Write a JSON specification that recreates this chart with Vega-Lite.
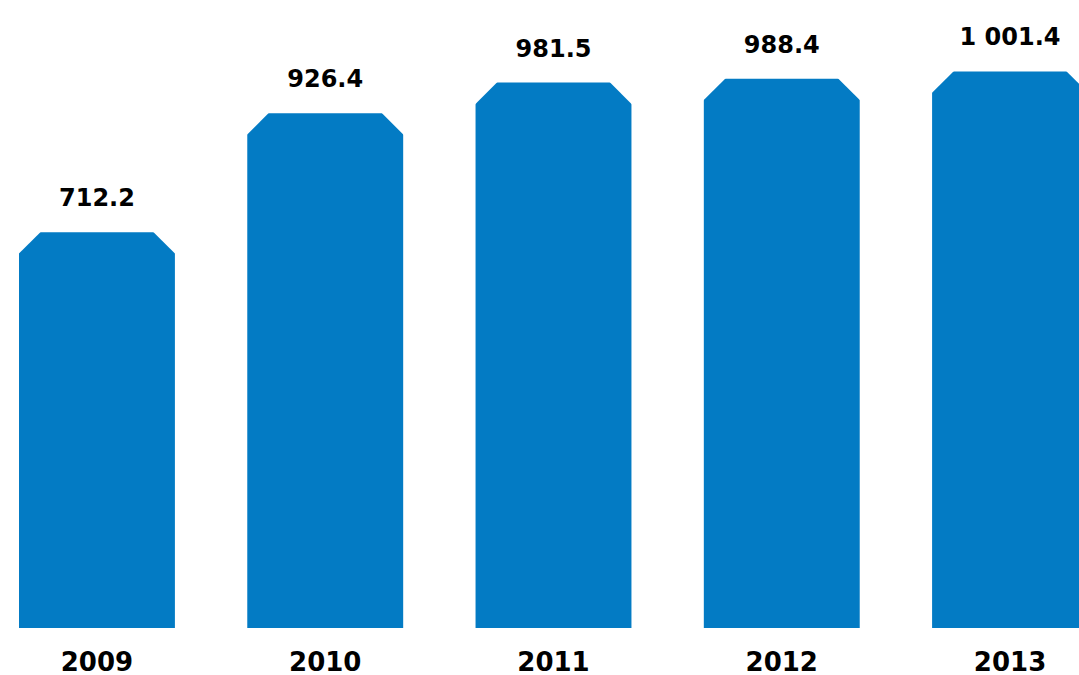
{
  "$schema": "https://vega.github.io/schema/vega-lite/v6.json",
  "width": 1079,
  "height": 675,
  "padding": 0,
  "autosize": "none",
  "background": "white",
  "config": {"view": {"stroke": null}},
  "data": {"values": [
    {"year": "2009", "value": 712.2, "label": "712.2"},
    {"year": "2010", "value": 926.4, "label": "926.4"},
    {"year": "2011", "value": 981.5, "label": "981.5"},
    {"year": "2012", "value": 988.4, "label": "988.4"},
    {"year": "2013", "value": 1001.4, "label": "1 001.4"}
  ]},
  "encoding": {
    "x": {
      "field": "year", "type": "nominal", "sort": null,
      "scale": {"range": [19, 1088], "paddingInner": 0.317, "paddingOuter": 0},
      "axis": {"title": null, "domain": false, "ticks": false, "labelAngle": 0, "offset": -47,
        "labelFont": "DejaVu Sans", "labelFontWeight": "bold", "labelFontSize": 26,
        "labelColor": "black", "labelPadding": 21, "labelBaseline": "top"}
    },
    "y": {
      "field": "value", "type": "quantitative",
      "scale": {"domain": [0, 1130], "nice": false, "zero": true, "range": [628, 0]},
      "axis": null
    }
  },
  "layer": [
    {"mark": {"type": "bar", "color": "#037bc4"}},
    {"mark": {"type": "point", "filled": true, "color": "white", "opacity": 1, "size": 2150, "shape": "M-0.1,-0.1 L1.02,-0.1 L-0.1,1.02 Z"},
     "encoding": {"x": {"field": "year", "type": "nominal", "sort": null, "bandPosition": 0}}},
    {"mark": {"type": "point", "filled": true, "color": "white", "opacity": 1, "size": 2150, "shape": "M0.1,-0.1 L-1.02,-0.1 L0.1,1.02 Z"},
     "encoding": {"x": {"field": "year", "type": "nominal", "sort": null, "bandPosition": 1}}},
    {"mark": {"type": "text", "font": "DejaVu Sans", "fontWeight": "bold", "fontSize": 24, "color": "black", "baseline": "alphabetic", "dy": -26},
     "encoding": {"text": {"field": "label"}}}
  ]
}
